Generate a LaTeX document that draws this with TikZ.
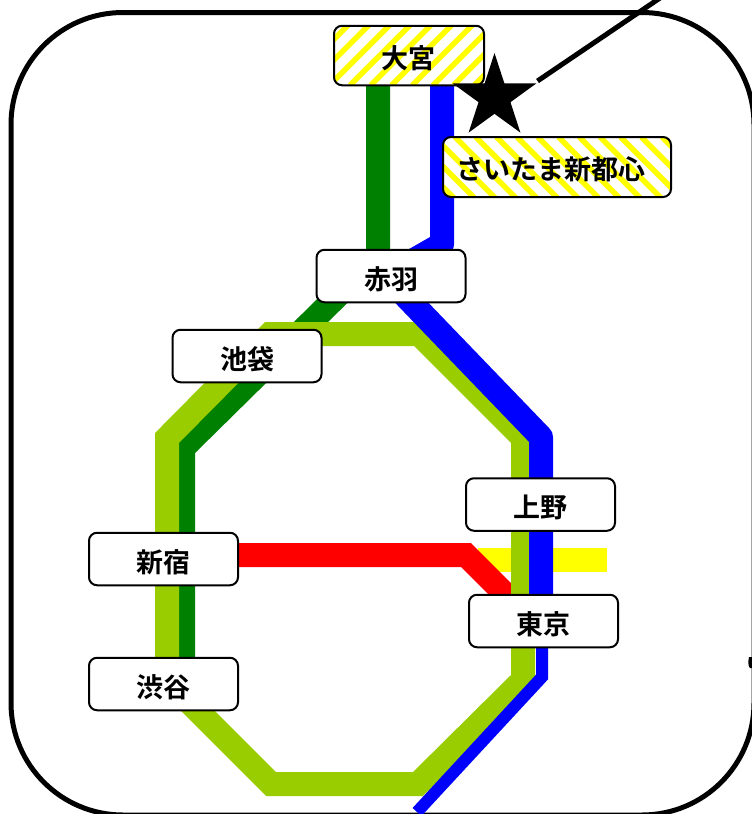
\documentclass[tikz,border=0pt]{standalone}
\usepackage{fontspec}
\setmainfont{Noto Sans CJK JP}[BoldFont={Noto Sans CJK JP Bold}]
\usetikzlibrary{shapes.geometric}
\definecolor{lgreen}{RGB}{154,205,0}
\definecolor{dgreen}{RGB}{0,128,0}
\definecolor{pyellow}{RGB}{255,255,0}
\definecolor{pred}{RGB}{255,0,0}
\definecolor{pblue}{RGB}{0,0,255}
\tikzset{
  x=1pt,y=-1pt,
  line/.style={line width=24pt,line join=miter,miter limit=10},
  labeltext/.style={font=\bfseries\fontsize{27pt}{27pt}\selectfont},
  station/.style={draw=black,line width=2pt,rounded corners=8pt,fill=white,minimum height=52.5pt,inner sep=0pt,
     labeltext,text depth=0pt},
  wide/.style={minimum width=149pt},
  hatchA/.style={path picture={
     \foreach \i in {-6,...,14}{\draw[pyellow,line width=5.5pt]
        ([xshift=\i*20.7pt-4.6pt]path picture bounding box.south west) -- ++(80pt,80pt);}}},
  hatchB/.style={path picture={
     \foreach \i in {-6,...,18}{\draw[pyellow,line width=5.5pt]
        ([xshift=\i*20.7pt+12pt]path picture bounding box.north west) -- ++(80pt,-80pt);}}},
}
\begin{document}
\begin{tikzpicture}
\useasboundingbox (0,0) rectangle (752,814);
\begin{scope}
\clip (0,0) rectangle (752,814);
\fill[white] (0,0) rectangle (752,814);
\draw[line width=5pt,rounded corners=112pt] (11,12.5) rectangle (754,815);
\fill (749,657) .. controls (748,662) and (748,666) .. (750,668) -- (753,668) -- (753,657) -- cycle;
\fill[pyellow] (478,548) rectangle (607,572);
\draw[line,pred] (239,555) -- (466,555) -- (513,602);
\draw[line,dgreen] (183,680) -- (183,448) -- (378,256) -- (378,80);
\draw[line,lgreen] (419,334) -- (523,438) -- (523,680) -- (418,784) -- (271,784) -- (167,680) -- (167,438) -- (270,334) -- cycle;
\draw[line,pblue,line join=round] (442,80) -- (442,244) -- (386,276) -- (541,437) -- (541,600);
\draw[line width=12pt,pblue] (542,640) -- (542,677) -- (417,812);
\coordinate (lineA) at (537.5,81);
\coordinate (lineB) at (660,-2);
\draw[line width=5pt] (lineA) -- (lineB);
\node[station,minimum width=150pt,minimum height=59.5pt,hatchA] (omiya) at (409,55.5) {};
\node[station,minimum width=228pt,minimum height=60pt,hatchB] (saitama) at (557,167) {};
\node[labeltext] (omiyat) at (408,58) {大宮};
\node[labeltext] (saitamat) at (551,169) {さいたま新都心};
\node[star,star points=5,star point ratio=2.618,minimum size=88pt,inner sep=0pt,fill=black] (star) at (494.5,97) {};
\node[station,wide] (akabane) at (391,276) {\raisebox{-4pt}{赤羽}};
\node[station,wide] (ikebukuro) at (247,356) {\raisebox{-4pt}{池袋}};
\node[station,wide] (ueno) at (540.5,504.5) {\raisebox{-4pt}{上野}};
\node[station,wide] (tokyo) at (543.5,621) {\raisebox{-4pt}{東京}};
\node[station,wide] (shinjuku) at (163.5,559) {\raisebox{-4pt}{新宿}};
\node[station,wide] (shibuya) at (163.5,684) {\raisebox{-4pt}{渋谷}};
\end{scope}
\end{tikzpicture}
\end{document}
